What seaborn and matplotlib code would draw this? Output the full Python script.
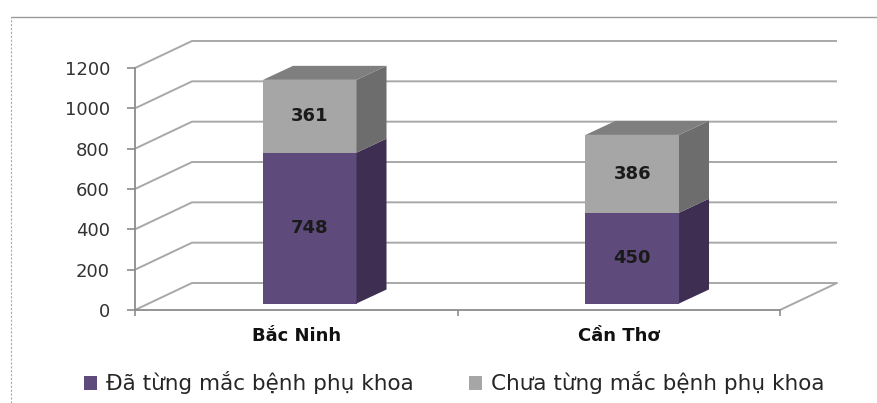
import pandas as pd
import seaborn as sns
import matplotlib.pyplot as plt
from matplotlib.patches import Polygon, Patch
from matplotlib.lines import Line2D
from matplotlib.transforms import ScaledTranslation

# data
regions = ["Bắc Ninh", "Cần Thơ"]
da_mac = [748, 450]      # Đã từng mắc bệnh phụ khoa
chua_mac = [361, 386]    # Chưa từng mắc bệnh phụ khoa
legend_labels = ["Đã từng mắc bệnh phụ khoa", "Chưa từng mắc bệnh phụ khoa"]
yticks = [0, 200, 400, 600, 800, 1000, 1200]

df = pd.DataFrame({"region": regions, "da": da_mac, "chua": chua_mac})
df["total"] = df["da"] + df["chua"]

purple, purple_side = "#5F4B7B", "#3D2E52"
gray, gray_side, gray_top = "#A6A6A6", "#6D6D6D", "#7F7F7F"
grid_col = "#A8A8A8"

sns.set_style("white")
plt.rcParams["font.family"] = ["DejaVu Sans"]

fig = plt.figure(figsize=(8.77, 4.03), dpi=100)
ax = fig.add_axes([135 / 877, 93 / 403, 645 / 877, 242 / 403])

bar_w = 0.29
sns.barplot(data=df, x="region", y="total", color=gray, width=bar_w,
            saturation=1, linewidth=0, ax=ax, zorder=3)
sns.barplot(data=df, x="region", y="da", color=purple, width=bar_w,
            saturation=1, linewidth=0, ax=ax, zorder=3)
ax.set_xlim(-0.5, 1.5)
ax.set_ylim(0, 1200)

# pseudo-3d: pixel offsets
bar_shift = (13.5, 6.5)
bar_depth = (30, 14)
wall_depth = (57, 27)
shift = ScaledTranslation(bar_shift[0] / 100, bar_shift[1] / 100, fig.dpi_scale_trans)


def pt(x, y, dx=0, dy=0):
    X, Y = ax.transData.transform((x, y))
    return ax.transData.inverted().transform((X + dx, Y + dy))


for p in ax.patches:
    p.set_transform(ax.transData + shift)
    p.set_clip_on(False)

sx, sy = bar_shift
dx, dy = bar_depth
for i, p in enumerate(ax.patches[:len(regions)]):
    x0, w = p.get_x(), p.get_width()
    segs = [(0, da_mac[i], purple_side, None),
            (da_mac[i], da_mac[i] + chua_mac[i], gray_side, gray_top)]
    for b, t, side_c, top_c in segs:
        side = [pt(x0 + w, b, sx, sy), pt(x0 + w, t, sx, sy),
                pt(x0 + w, t, sx + dx, sy + dy), pt(x0 + w, b, sx + dx, sy + dy)]
        ax.add_patch(Polygon(side, closed=True, fc=side_c, ec="none", zorder=3, clip_on=False))
        if top_c:
            top = [pt(x0, t, sx, sy), pt(x0 + w, t, sx, sy),
                   pt(x0 + w, t, sx + dx, sy + dy), pt(x0, t, sx + dx, sy + dy)]
            ax.add_patch(Polygon(top, closed=True, fc=top_c, ec="none", zorder=3, clip_on=False))

# value labels
for i in range(len(regions)):
    for yv, val in [(da_mac[i] / 2, da_mac[i]), (da_mac[i] + chua_mac[i] / 2, chua_mac[i])]:
        ax.text(i, yv, str(val), ha="center", va="center", fontsize=13,
                fontweight="bold", color="#1A1A1A", transform=ax.transData + shift, zorder=5)

# back wall / floor gridlines
wx, wy = wall_depth
for v in yticks:
    a = pt(-0.5, v)
    b = pt(-0.5, v, wx, wy)
    c = pt(1.5, v, wx, wy)
    ax.plot([a[0], b[0], c[0]], [a[1], b[1], c[1]], color=grid_col, lw=1.4,
            zorder=1, clip_on=False, solid_capstyle="butt")
fr = pt(1.5, 0, wx, wy)
ax.plot([1.5, fr[0]], [0, fr[1]], color=grid_col, lw=1.4, zorder=1, clip_on=False)

# axes styling
for s in ["top", "right"]:
    ax.spines[s].set_visible(False)
for s in ["left", "bottom"]:
    ax.spines[s].set_color("#8C8C8C")
    ax.spines[s].set_linewidth(1.3)
ax.set_yticks(yticks)
ax.set_yticklabels([str(v) for v in yticks], fontsize=13, color="#333333")
ax.tick_params(axis="y", length=6, width=1.2, color="#8C8C8C", pad=12, left=True)
ax.set_xticks([-0.5, 0.5, 1.5], minor=True)
ax.tick_params(axis="x", which="minor", length=4, width=1.2, color="#8C8C8C", bottom=True)
ax.tick_params(axis="x", which="major", length=0, pad=12)
ax.set_xticks([0, 1])
ax.set_xticklabels(regions, fontsize=13, fontweight="bold", color="#111111")
ax.set_xlabel("")
ax.set_ylabel("")

# legend
handles = [Patch(fc=purple, ec="none"), Patch(fc=gray, ec="none")]
fig.legend(handles, legend_labels, loc="center", bbox_to_anchor=(0.518, 0.05), ncol=2,
           frameon=False, fontsize=15.5, handlelength=0.6, handleheight=0.6,
           handletextpad=0.4, columnspacing=2.6, labelcolor="#262626")

# outer chart frame
fig.add_artist(Line2D([11 / 877, 1], [1 - 17 / 403] * 2, transform=fig.transFigure,
                      color="#9A9A9A", lw=1))
fig.add_artist(Line2D([11 / 877] * 2, [0, 1 - 17 / 403], transform=fig.transFigure,
                      color="#AAAAAA", lw=0.8, ls=(0, (2, 1.5))))

fig.savefig("out.png", dpi=100)
